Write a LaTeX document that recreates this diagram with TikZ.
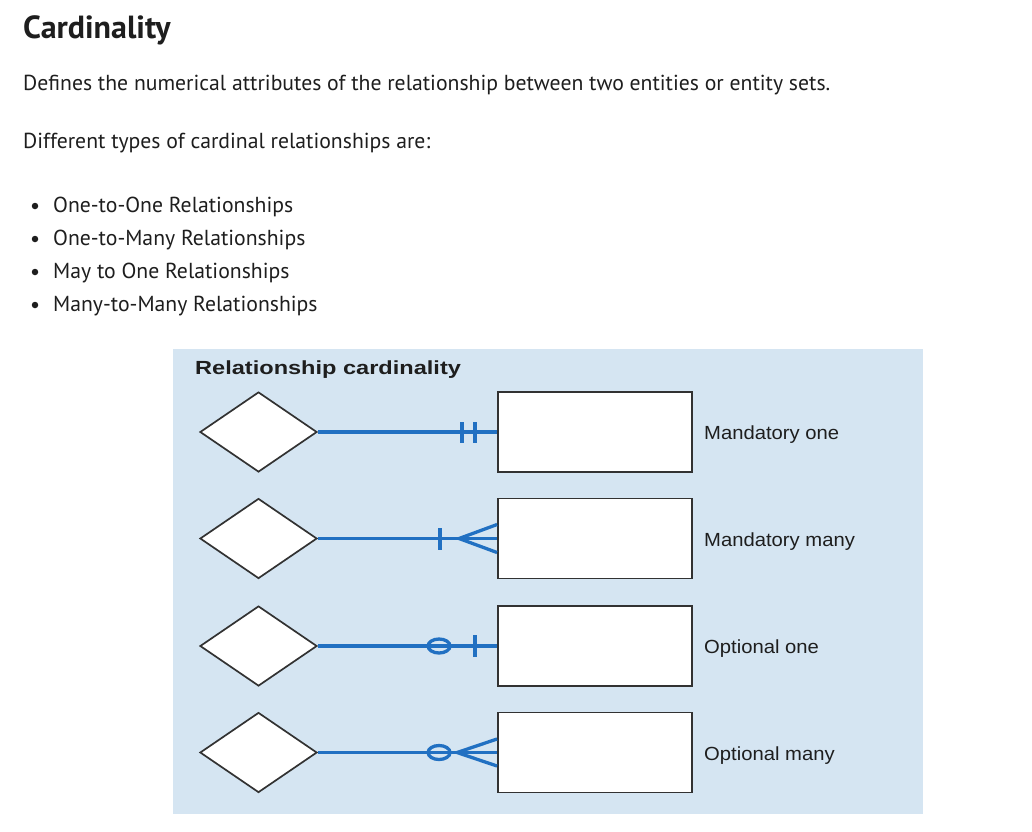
\documentclass[tikz,border=0pt]{standalone}
\usepackage{fontspec}
\setmainfont{PT Sans}
\newfontfamily\diagfont{Liberation Sans}
\usetikzlibrary{shapes.geometric}
\definecolor{panel}{RGB}{213,229,242}
\definecolor{cline}{RGB}{33,112,194}
\definecolor{edgegray}{RGB}{50,50,50}
\definecolor{ink}{RGB}{30,30,30}
\begin{document}
\begin{tikzpicture}[x=1pt,y=-1pt,
  txt/.style={anchor=base west, inner sep=0pt, text=ink, font=\fontsize{21.7}{26}\selectfont},
  heading/.style={anchor=base west, inner sep=0pt, text=ink, font=\bfseries\fontsize{32}{38}\selectfont},
  rel/.style={diamond, draw=edgegray, fill=white, line width=1.7pt, minimum width=117pt, minimum height=80pt, inner sep=0pt},
  ent/.style={rectangle, draw=edgegray, fill=white, line width=1.9pt, minimum width=194pt, minimum height=80pt, inner sep=0pt},
  lab/.style={anchor=base west, inner sep=0pt, text=ink, font=\diagfont\fontsize{19}{22}\selectfont},
  dtitle/.style={anchor=base west, inner sep=0pt, text=ink, font=\diagfont\bfseries\fontsize{19}{22}\selectfont},
  conn/.style={draw=cline, line width=3.3pt},
  symb/.style={draw=cline, line width=3.8pt},
  symbthin/.style={draw=cline, line width=3.3pt},
  bulletdot/.style={circle, fill=ink, inner sep=0pt, minimum size=6.5pt}
]
\useasboundingbox (0,0) rectangle (1032,831);
\fill[white] (0,0) rectangle (1032,831);

% text part
\node[heading] (head) at (23,38) {Cardinality};
\node[txt] (def) at (23,90) {Defines the numerical attributes of the relationship between two entities or entity sets.};
\node[txt] (diff) at (23,148) {Different types of cardinal relationships are:};
\node[bulletdot] (b1) at (35,206) {};
\node[bulletdot] (b2) at (35,239) {};
\node[bulletdot] (b3) at (35,272) {};
\node[bulletdot] (b4) at (35,305) {};
\node[txt] (l1) at (53,212) {One-to-One Relationships};
\node[txt] (l2) at (53,245) {One-to-Many Relationships};
\node[txt] (l3) at (53,278) {May to One Relationships};
\node[txt] (l4) at (53,311) {Many-to-Many Relationships};

% panel
\fill[panel] (173,349) rectangle (923,814);
\node[dtitle] (dt) at (195,374) {\scalebox{1.24}[1]{Relationship cardinality}};

% rows
\node[rel] (r1) at (258.5,432) {};
\node[rel] (r2) at (258.5,538.5) {};
\node[rel] (r3) at (258.5,646) {};
\node[rel] (r4) at (258.5,752.5) {};
\node[ent] (e1) at (595,432) {};
\node[ent] (e2) at (595,538.5) {};
\node[ent] (e3) at (595,646) {};
\node[ent] (e4) at (595,752.5) {};

\draw[conn] (r1.east) -- (e1.west);
\draw[conn] (r2.east) -- (e2.west);
\draw[conn] (r3.east) -- (e3.west);
\draw[conn] (r4.east) -- (e4.west);

% mandatory one
\draw[symb] ([xshift=-35pt,yshift=-10.5pt]e1.west) -- ([xshift=-35pt,yshift=10.5pt]e1.west);
\draw[symb] ([xshift=-22pt,yshift=-10.5pt]e1.west) -- ([xshift=-22pt,yshift=10.5pt]e1.west);
% mandatory many
\draw[symb] ([xshift=-57pt,yshift=-11pt]e2.west) -- ([xshift=-57pt,yshift=11pt]e2.west);
\draw[symbthin] ([yshift=14pt]e2.west) -- ([xshift=-38pt]e2.west) -- ([yshift=-14pt]e2.west);
% optional one
\draw[symbthin] ([xshift=-58pt]e3.west) ellipse [x radius=11pt, y radius=7pt];
\draw[symb] ([xshift=-22pt,yshift=-11pt]e3.west) -- ([xshift=-22pt,yshift=11pt]e3.west);
% optional many
\draw[symbthin] ([xshift=-58pt]e4.west) ellipse [x radius=11pt, y radius=7pt];
\draw[symbthin] ([yshift=13.5pt]e4.west) -- ([xshift=-40pt]e4.west) -- ([yshift=-13.5pt]e4.west);

% labels
\node[lab] (t1) at (704,439) {\scalebox{1.065}[1]{Mandatory one}};
\node[lab] (t2) at (704,546) {\scalebox{1.065}[1]{Mandatory many}};
\node[lab] (t3) at (704,653) {\scalebox{1.065}[1]{Optional one}};
\node[lab] (t4) at (704,760) {\scalebox{1.065}[1]{Optional many}};
\end{tikzpicture}
\end{document}
